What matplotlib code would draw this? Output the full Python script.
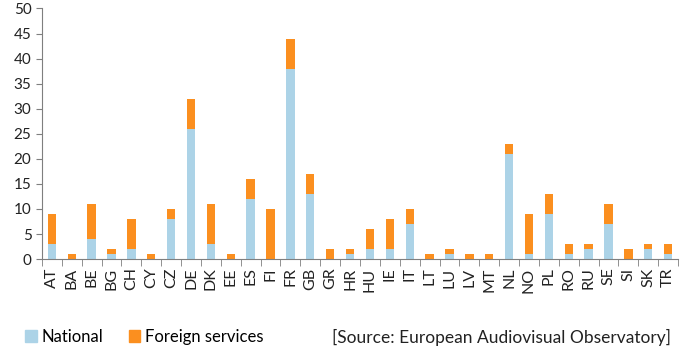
import numpy as np
import matplotlib
matplotlib.use("Agg")
import matplotlib.pyplot as plt
from matplotlib.patches import Patch

countries = ["AT", "BA", "BE", "BG", "CH", "CY", "CZ", "DE", "DK", "EE",
             "ES", "FI", "FR", "GB", "GR", "HR", "HU", "IE", "IT", "LT",
             "LU", "LV", "MT", "NL", "NO", "PL", "RO", "RU", "SE", "SI",
             "SK", "TR"]
national = [3, 0, 4, 1, 2, 0, 8, 26, 3, 0,
            12, 0, 38, 13, 0, 1, 2, 2, 7, 0,
            1, 0, 0, 21, 1, 9, 1, 2, 7, 0,
            2, 1]
foreign = [6, 1, 7, 1, 6, 1, 2, 6, 8, 1,
           4, 10, 6, 4, 2, 1, 4, 6, 3, 1,
           1, 1, 1, 2, 8, 4, 2, 1, 4, 2,
           1, 2]

BLUE = "#acd3e7"
ORANGE = "#fb8f1f"
AXIS = "#7f7f7f"

plt.rcParams["font.family"] = ["Lato", "DejaVu Sans"]

fig = plt.figure(figsize=(6.87, 3.53), dpi=100)
ax = fig.add_axes([0.061, 0.266, 0.926, 0.71])

x = np.arange(len(countries))
ax.bar(x, national, width=0.42, color=BLUE, label="National")
ax.bar(x, foreign, width=0.42, bottom=national, color=ORANGE,
       label="Foreign services")

ax.set_xlim(-0.5, len(countries) - 0.5)
ax.set_ylim(0, 50)
ax.set_yticks(range(0, 51, 5))
ax.tick_params(axis="y", colors=AXIS, labelcolor="#222", labelsize=11,
               length=4, direction="out")

# category labels centred, tick marks on the boundaries
ax.set_xticks(x)
ax.set_xticklabels(countries, rotation=90, fontsize=11.5, color="#222")
ax.tick_params(axis="x", length=0, pad=6)
ax.set_xticks(np.arange(-0.5, len(countries)), minor=True)
ax.tick_params(axis="x", which="minor", length=5, color=AXIS)

for s in ("top", "right"):
    ax.spines[s].set_visible(False)
ax.spines["left"].set_color(AXIS)
ax.spines["bottom"].set_color(AXIS)

handles = [Patch(color=BLUE, label="National"),
           Patch(color=ORANGE, label="Foreign services")]
fig.legend(handles=handles, loc="center left", bbox_to_anchor=(0.015, 0.045),
           ncol=2, frameon=False, fontsize=12, handlelength=0.7,
           handleheight=0.7, handletextpad=0.3, columnspacing=1.5)
fig.text(0.977, 0.045, "[Source: European Audiovisual Observatory]",
         ha="right", va="center", fontsize=12.5, color="#222")

fig.savefig("out.png", dpi=100, facecolor="white")
